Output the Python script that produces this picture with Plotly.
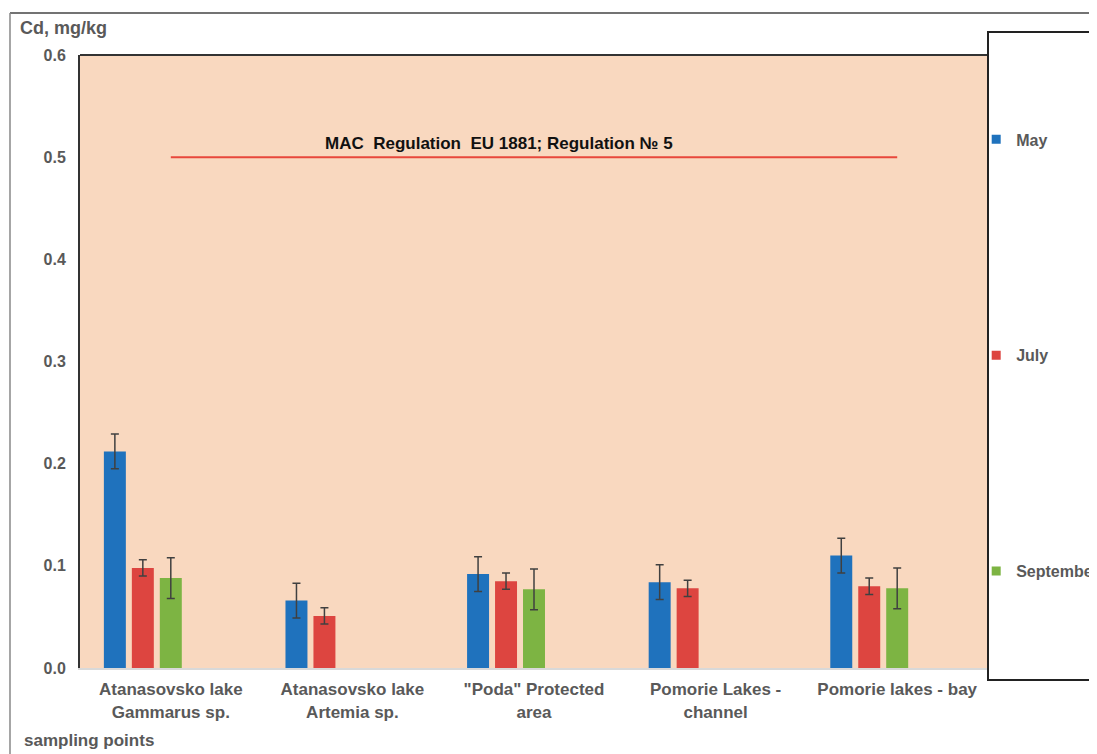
import plotly.graph_objects as go

categories = ["Atanasovsko lake<br>Gammarus sp.", "Atanasovsko lake<br>Artemia sp.",
              "\"Poda\" Protected<br>area", "Pomorie Lakes -<br>channel", "Pomorie lakes - bay"]
may_vals = [0.212, 0.066, 0.092, 0.084, 0.110]
may_err = [0.017, 0.017, 0.017, 0.017, 0.017]
july_vals = [0.098, 0.051, 0.085, 0.078, 0.080]
july_err = [0.008, 0.008, 0.008, 0.008, 0.008]
sep_vals = [0.088, None, 0.077, None, 0.078]
sep_err = [0.020, None, 0.020, None, 0.020]
mac_limit = 0.5
yticks = [0.0, 0.1, 0.2, 0.3, 0.4, 0.5, 0.6]

grey = "#595959"
font_family = "Liberation Sans, Arial, sans-serif"
bw = 0.121
step = 0.154

fig = go.Figure()
series = [("May", may_vals, may_err, "#1F72BD", -2 * step),
          ("July", july_vals, july_err, "#DD4540", -1 * step),
          ("September", sep_vals, sep_err, "#7DB443", 0.0)]
for name, vals, err, col, center in series:
    fig.add_trace(go.Bar(
        x=categories, y=vals, name=name, marker=dict(color=col, line=dict(width=0)),
        width=bw, offset=center - bw / 2, legendgroup=name, showlegend=False,
        error_y=dict(type="data", array=err, visible=True, color="#404040", thickness=1.5, width=4),
    ))
    # legend-only entry with a small square key
    fig.add_trace(go.Scatter(x=[None], y=[None], mode="markers", name=name, legendgroup=name,
                             marker=dict(symbol="square", size=9, color=col), hoverinfo="skip"))

fig.add_trace(go.Scatter(x=[categories[0], categories[-1]], y=[mac_limit, mac_limit], mode="lines",
                         line=dict(color="#E8473B", width=2), showlegend=False, hoverinfo="skip"))

fig.add_annotation(x=0.461, xref="paper", y=mac_limit, yref="y", yanchor="bottom", yshift=2,
                   text="MAC  Regulation  EU 1881; Regulation № 5", showarrow=False,
                   font=dict(family=font_family, size=17, color="#111111", weight="bold"))
fig.add_annotation(x=-0.0685, xref="paper", y=1.044, yref="paper", xanchor="left", yanchor="middle",
                   text="Cd, mg/kg", showarrow=False,
                   font=dict(family=font_family, size=18, color=grey, weight="bold"))
fig.add_annotation(x=-0.064, xref="paper", y=-0.119, yref="paper", xanchor="left", yanchor="middle",
                   text="sampling points", showarrow=False,
                   font=dict(family=font_family, size=17, color=grey, weight="bold"))

# plot frame top/right, legend box, outer border
fig.add_shape(type="line", xref="paper", yref="paper", x0=0, x1=1, y0=1, y1=1,
              line=dict(color="#333333", width=2))
fig.add_shape(type="line", xref="paper", yref="paper", x0=1, x1=1, y0=0, y1=1,
              line=dict(color="#333333", width=2))
fig.add_shape(type="rect", xref="paper", yref="paper", x0=1.0, x1=1.2, y0=-0.0196, y1=1.0375,
              line=dict(color="#222222", width=2), fillcolor="rgba(0,0,0,0)")
fig.add_shape(type="line", xref="paper", yref="paper", x0=-0.0771, x1=1.2, y0=1.0685, y1=1.0685,
              line=dict(color="#444444", width=1.5))
fig.add_shape(type="line", xref="paper", yref="paper", x0=-0.0771, x1=-0.0771, y0=1.0685, y1=-0.2,
              line=dict(color="#888888", width=1.5))

fig.update_layout(
    width=1100, height=746,
    margin=dict(l=72, r=120, t=47, b=86, autoexpand=False),
    paper_bgcolor="white", plot_bgcolor="#F9D8BF",
    barmode="overlay",
    font=dict(family=font_family, color=grey, size=15),
    legend=dict(x=0.987, xanchor="left", y=0.89, yanchor="top", tracegroupgap=192,
                font=dict(family=font_family, size=16, color=grey, weight="bold"),
                bgcolor="rgba(0,0,0,0)", itemwidth=30),
    xaxis=dict(showgrid=False, showline=True, linecolor="#D9D9D9", linewidth=2, ticks="",
               ticklabelstandoff=5,
               tickfont=dict(family=font_family, size=17, color=grey, weight="bold")),
    yaxis=dict(range=[0, 0.6], tickvals=yticks, tickformat=".1f", showgrid=False, zeroline=False,
               showline=True, linecolor="#333333", linewidth=2, ticks="", ticklabelstandoff=9,
               tickfont=dict(family=font_family, size=16, color=grey, weight="bold")),
    showlegend=True,
)

fig.write_html("out.html")
